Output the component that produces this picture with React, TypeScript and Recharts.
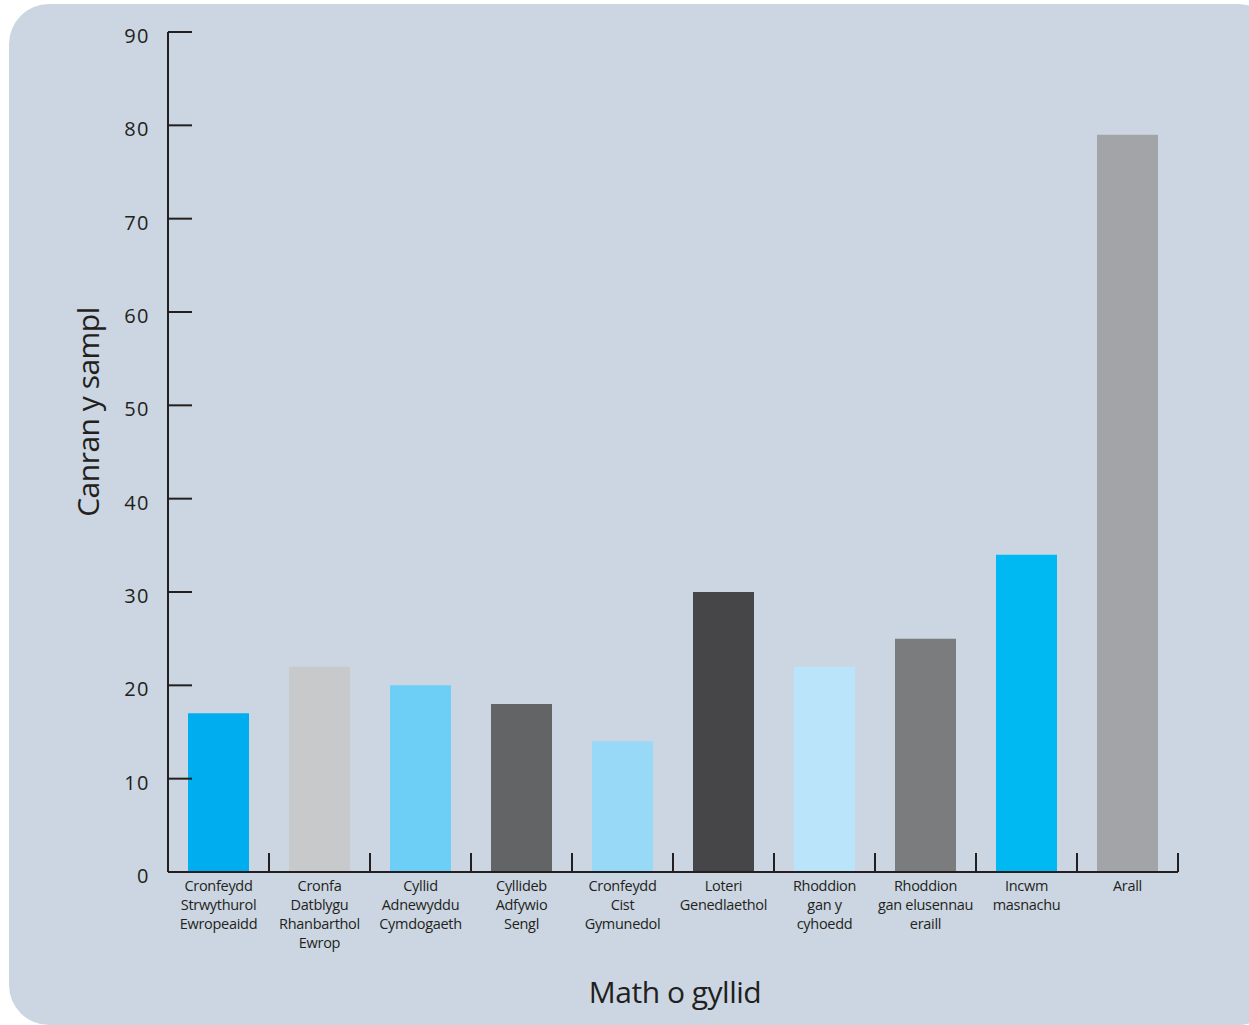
import { Bar, BarChart, Cell, Label, XAxis, YAxis } from "recharts";

const categories = [
  "Cronfeydd\nStrwythurol\nEwropeaidd",
  "Cronfa\nDatblygu\nRhanbarthol\nEwrop",
  "Cyllid\nAdnewyddu\nCymdogaeth",
  "Cyllideb\nAdfywio\nSengl",
  "Cronfeydd\nCist\nGymunedol",
  "Loteri\nGenedlaethol",
  "Rhoddion\ngan y\ncyhoedd",
  "Rhoddion\ngan elusennau\neraill",
  "Incwm\nmasnachu",
  "Arall",
];

const values = [17, 22, 20, 18, 14, 30, 22, 25, 34, 79];

const barColors = [
  "#00aeef",
  "#c8c9cb",
  "#6dcff6",
  "#636466",
  "#97d9f6",
  "#464648",
  "#b9e4f9",
  "#7b7c7e",
  "#00b9f2",
  "#a3a4a8",
];

const yTicks = [0, 10, 20, 30, 40, 50, 60, 70, 80, 90];

const INK = "#231f20";
const FONT = "'Open Sans', 'DejaVu Sans', sans-serif";
const W = 1249;
const H = 1025;
const MARGIN = { top: 32, right: 71, bottom: 23, left: 68 };
const Y_AXIS_W = 100;
const X_AXIS_H = 130;
const BAND = (W - MARGIN.left - Y_AXIS_W - MARGIN.right) / categories.length;

const data = categories.map((name, i) => ({ name, value: values[i] }));

function XTick({ x, y, payload }: any) {
  const lines = String(payload.value).split("\n");
  return (
    <g>
      <line x1={x + BAND / 2} y1={y} x2={x + BAND / 2} y2={y - 19} stroke={INK} strokeWidth={2} />
      <text x={x} y={y + 14} textAnchor="middle" fontFamily={FONT} fontSize={14.5} fill={INK} letterSpacing={-0.3}>
        {lines.map((l, i) => (
          <tspan key={i} x={x} dy={i === 0 ? "0.35em" : 19}>
            {l}
          </tspan>
        ))}
      </text>
    </g>
  );
}

function YTick({ x, y, payload }: any) {
  const axisX = x + 18;
  return (
    <g>
      <line x1={axisX} y1={y} x2={axisX + 24} y2={y} stroke={INK} strokeWidth={2} />
      <text x={x} y={y + 4} dy="0.35em" textAnchor="end" fontFamily={FONT} fontSize={20} fill={INK} letterSpacing={1.5}>
        {payload.value}
      </text>
    </g>
  );
}

export default function App() {
  return (
    <div style={{ position: "fixed", left: 0, top: 0, width: W, height: H, overflow: "hidden" }}>
      <div
        style={{
          position: "absolute",
          left: 9,
          top: 4,
          width: W + 20,
          height: H - 4,
          borderRadius: 40,
          background: "#cbd6e2",
        }}
      />
      <div style={{ position: "absolute", left: 0, top: 0 }}>
        <BarChart width={W} height={H} data={data} margin={MARGIN}>
          <XAxis
            dataKey="name"
            height={X_AXIS_H}
            interval={0}
            tickLine={false}
            tickSize={0}
            tickMargin={0}
            axisLine={{ stroke: INK, strokeWidth: 2 }}
            tick={<XTick />}
          >
            <Label
              content={() => (
                <text x={675} y={992} dy="0.35em" textAnchor="middle" fontFamily={FONT} fontSize={30} fill={INK} letterSpacing={-0.5}>
                  Math o gyllid
                </text>
              )}
            />
          </XAxis>
          <YAxis
            width={Y_AXIS_W}
            domain={[0, 90]}
            ticks={yTicks}
            interval={0}
            tickLine={false}
            tickSize={0}
            tickMargin={18}
            axisLine={{ stroke: INK, strokeWidth: 2 }}
            tick={<YTick />}
          >
            <Label
              content={() => (
                <text
                  x={88}
                  y={412}
                  dy="0.35em"
                  textAnchor="middle"
                  transform="rotate(-90 88 412)"
                  fontFamily={FONT}
                  fontSize={30}
                  fill={INK}
                  letterSpacing={-0.5}
                >
                  Canran y sampl
                </text>
              )}
            />
          </YAxis>
          <Bar dataKey="value" barSize={61} isAnimationActive={false}>
            {data.map((d, i) => (
              <Cell key={d.name} fill={barColors[i]} />
            ))}
          </Bar>
        </BarChart>
      </div>
    </div>
  );
}
